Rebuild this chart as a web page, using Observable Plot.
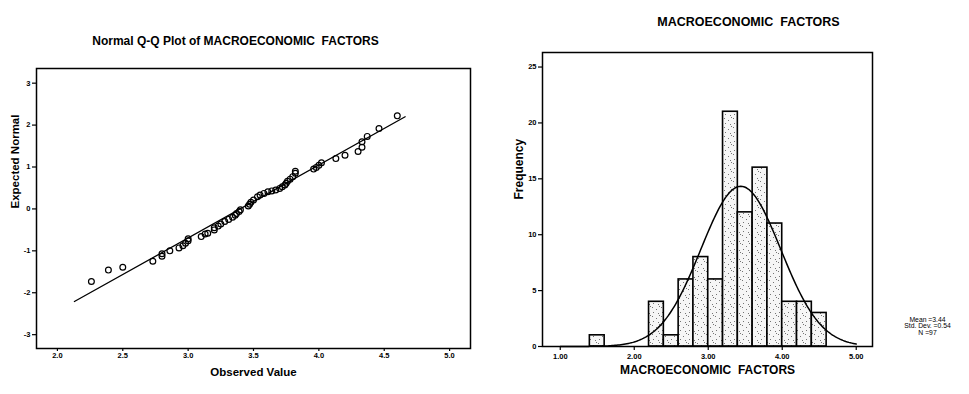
<!DOCTYPE html>
<html><head><meta charset="utf-8">
<script src="https://cdn.jsdelivr.net/npm/d3@7"></script>
<script src="https://cdn.jsdelivr.net/npm/@observablehq/plot@0.6"></script>
<style>
body{margin:0;background:#fff;}
#wrap{position:relative;width:969px;height:394px;overflow:hidden;background:#fff;}
#left{position:absolute;left:0;top:0;}
#right{position:absolute;left:480px;top:0;}
</style></head><body><div id="wrap"><div id="left"></div><div id="right"></div></div>
<script>
// ---------- Data ----------
const qqTitle = "Normal Q-Q Plot of MACROECONOMIC  FACTORS";
const qqXLabel = "Observed Value";
const qqYLabel = "Expected Normal";
const qqXTicks = [2.0, 2.5, 3.0, 3.5, 4.0, 4.5, 5.0];
const qqXTickLabels = ["2.0", "2.5", "3.0", "3.5", "4.0", "4.5", "5.0"];
const qqYTicks = [3, 2, 1, 0, -1, -2, -3];
const qqYTickLabels = ["3", "2", "1", "0", "-1", "-2", "-3"];
const qqObserved = [2.26, 2.39, 2.50, 2.73, 2.80, 2.80, 2.86, 2.93, 2.96, 2.98, 3.00, 3.00, 3.10, 3.13, 3.15,
  3.20, 3.20, 3.23, 3.25, 3.28, 3.31, 3.34, 3.36, 3.37, 3.39, 3.40, 3.46, 3.47, 3.48, 3.50, 3.53, 3.55,
  3.58, 3.61, 3.64, 3.67, 3.70, 3.72, 3.74, 3.75, 3.76, 3.78, 3.80, 3.82, 3.82, 3.96, 3.98, 4.00, 4.02,
  4.13, 4.20, 4.30, 4.33, 4.33, 4.37, 4.46, 4.60];
const qqExpected = [-1.73, -1.46, -1.39, -1.25, -1.13, -1.07, -1.00, -0.93, -0.88, -0.82, -0.76, -0.71, -0.66, -0.60, -0.58,
  -0.50, -0.45, -0.41, -0.36, -0.30, -0.25, -0.20, -0.15, -0.11, -0.06, -0.02, 0.07, 0.11, 0.16, 0.21, 0.29, 0.33,
  0.37, 0.41, 0.43, 0.45, 0.49, 0.53, 0.57, 0.61, 0.66, 0.71, 0.77, 0.85, 0.90, 0.95, 0.99, 1.04, 1.10,
  1.20, 1.28, 1.37, 1.47, 1.60, 1.73, 1.92, 2.22];
const qqLineX = [2.13, 4.66];
const qqLineY = [-2.21, 2.20];

const histTitle = "MACROECONOMIC  FACTORS";
const histXLabel = "MACROECONOMIC  FACTORS";
const histYLabel = "Frequency";
const histXTicks = [1, 2, 3, 4, 5];
const histXTickLabels = ["1.00", "2.00", "3.00", "4.00", "5.00"];
const histYTicks = [0, 5, 10, 15, 20, 25];
const histYTickLabels = ["0", "5", "10", "15", "20", "25"];
const binStart = [1.4, 2.2, 2.4, 2.6, 2.8, 3.0, 3.2, 3.4, 3.6, 3.8, 4.0, 4.2, 4.4];
const binCount = [1, 4, 1, 6, 8, 6, 21, 12, 16, 11, 4, 4, 3];
const binWidth = 0.2;
const statMean = 3.44;
const statSD = 0.54;
const statN = 97;
const statText = ["Mean =3.44", "Std. Dev. =0.54", "N =97"];

// ---------- Derived tables ----------
const qqPoints = qqObserved.map((x, i) => ({x, y: qqExpected[i]}));
const qqLine = qqLineX.map((x, i) => ({x, y: qqLineY[i]}));
const bins = binStart.map((s, i) => ({x1: s, x2: s + binWidth, count: binCount[i]}));
// fitted normal curve defined by the stated mean, SD and N
const curve = d3.range(1.0, 5.0001, 0.02).map(x => ({
  x, y: statN * binWidth * Math.exp(-0.5 * ((x - statMean) / statSD) ** 2) / (statSD * Math.sqrt(2 * Math.PI))
}));

const font = "'Liberation Sans', Arial, sans-serif";
const baseStyle = {fontFamily: font, fontSize: "7px", color: "#000", background: "transparent", overflow: "visible"};

// ---------- Left: Q-Q plot ----------
const left = Plot.plot({
  width: 480, height: 394,
  marginLeft: 36, marginRight: 10, marginTop: 68, marginBottom: 46,
  style: baseStyle,
  x: {domain: [1.84, 5.16]},
  y: {domain: [-3.33, 3.35]},
  marks: [
    Plot.frame({stroke: "#000", strokeWidth: 1.5}),
    Plot.axisX({ticks: qqXTicks, tickFormat: (d, i) => qqXTickLabels[i], tickSize: 3, tickPadding: 1,
      label: null, fontSize: 7.5, fontWeight: "bold", strokeWidth: 1.2}),
    Plot.axisY({ticks: qqYTicks, tickFormat: (d, i) => qqYTickLabels[i], tickSize: 4, tickPadding: 2,
      label: null, fontSize: 7.5, fontWeight: "bold", strokeWidth: 1.2}),
    Plot.line(qqLine, {x: "x", y: "y", stroke: "#000", strokeWidth: 1.3}),
    Plot.dot(qqPoints, {x: "x", y: "y", r: 2.9, stroke: "#000", strokeWidth: 1.2, fill: "none"}),
    Plot.text([qqTitle], {frameAnchor: "top", dy: -32, dx: -18, fontSize: 12, fontWeight: "bold"}),
    Plot.text([qqXLabel], {frameAnchor: "bottom", dy: 27, fontSize: 11.5, fontWeight: "bold"}),
    Plot.text([qqYLabel], {frameAnchor: "left", dx: -21, rotate: -90, fontSize: 11.5, fontWeight: "bold"})
  ]
});
document.getElementById("left").append(left);

// ---------- Right: histogram ----------
const right = Plot.plot({
  width: 489, height: 394,
  marginLeft: 62, marginRight: 97, marginTop: 52, marginBottom: 48,
  style: baseStyle,
  x: {domain: [0.76, 5.22]},
  y: {domain: [0, 26.3]},
  marks: [
    Plot.rectY(bins, {x1: "x1", x2: "x2", y: "count", fill: "url(#stip)", stroke: "#000", strokeWidth: 1.6}),
    Plot.line(curve, {x: "x", y: "y", stroke: "#000", strokeWidth: 1.5}),
    Plot.frame({stroke: "#000", strokeWidth: 1.5}),
    Plot.axisX({ticks: histXTicks, tickFormat: (d, i) => histXTickLabels[i], tickSize: 4, tickPadding: 3,
      label: null, fontSize: 7.5, fontWeight: "bold", strokeWidth: 1.2}),
    Plot.axisY({ticks: histYTicks, tickFormat: (d, i) => histYTickLabels[i], tickSize: 4, tickPadding: 2,
      label: null, fontSize: 7.5, fontWeight: "bold", strokeWidth: 1.2}),
    Plot.text([histTitle], {frameAnchor: "top", dy: -35, dx: 41, fontSize: 12.5, fontWeight: "bold"}),
    Plot.text([histXLabel], {frameAnchor: "bottom", dy: 27, fontSize: 12, fontWeight: "bold"}),
    Plot.text([histYLabel], {frameAnchor: "left", dx: -23, rotate: -90, fontSize: 12, fontWeight: "bold"}),
    Plot.text([statText.join("\n")], {frameAnchor: "bottom-right", dx: 55, dy: -12, textAnchor: "middle",
      lineAnchor: "bottom", lineHeight: 0.95, fontSize: 6.8})
  ]
});
// stipple pattern for bars
const defs = d3.select(right).insert("defs", ":first-child");
const pat = defs.append("pattern").attr("id", "stip").attr("patternUnits", "userSpaceOnUse")
  .attr("width", 9).attr("height", 9);
pat.append("rect").attr("width", 9).attr("height", 9).attr("fill", "#f6f6f6");
[[1, 1], [5, 3], [2, 6], [7, 7], [8, 0]].forEach(([a, b]) =>
  pat.append("rect").attr("x", a).attr("y", b).attr("width", 0.9).attr("height", 0.9).attr("fill", "#555"));
document.getElementById("right").append(right);
</script></body></html>
